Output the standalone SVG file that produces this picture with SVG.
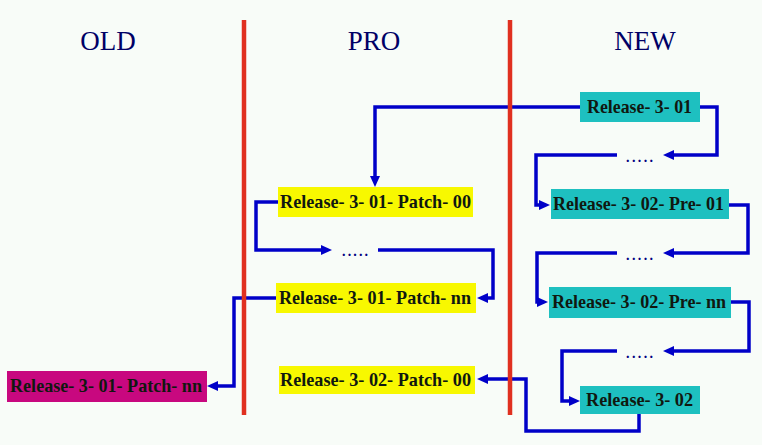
<svg xmlns="http://www.w3.org/2000/svg" width="762" height="445" viewBox="0 0 762 445">
<style>
.title{font-family:"Liberation Serif","Times New Roman",serif;font-size:27px;fill:#000066}
.lbl{font-family:"Liberation Serif","Times New Roman",serif;font-size:19px;font-weight:bold;fill:#101810}
.dots{font-family:"Liberation Serif","Times New Roman",serif;font-size:14px;font-weight:bold;fill:#000080}
.conn{fill:none;stroke:#0000C8;stroke-width:3.5;marker-end:url(#arr)}
.new{fill:#1EC0C0}
.pro{fill:#F8F800}
.old{fill:#C8087F}
.sep{stroke:#E03020;stroke-width:4.5}
</style>
<defs>
<marker id="arr" markerUnits="userSpaceOnUse" markerWidth="12" markerHeight="10" refX="4" refY="5" orient="auto">
<path d="M0,0 L11,5 L0,10 z" fill="#0000C8"/>
</marker>
</defs>
<rect width="762" height="445" fill="#F8FCF8"/>
<g id="titles">
<text class="title" x="108" y="50" text-anchor="middle">OLD</text>
<text class="title" x="374" y="50" text-anchor="middle">PRO</text>
<text class="title" x="645" y="50" text-anchor="middle">NEW</text>
</g>
<g id="connectors">
<path class="conn" d="M580,107 H375 V180"/>
<path class="conn" d="M700,107 H717 V155 H670"/>
<path class="conn" d="M617,155 H536 V205 H543"/>
<path class="conn" d="M729,205 H748 V253 H670"/>
<path class="conn" d="M617,253 H537 V302 H541"/>
<path class="conn" d="M731,302 H749 V351 H670"/>
<path class="conn" d="M617,351 H562 V401 H573"/>
<path class="conn" d="M639,414 V431 H526 V379 H484"/>
<path class="conn" d="M278,202 H256 V250 H325"/>
<path class="conn" d="M378,250 H493 V298 H484"/>
<path class="conn" d="M276,298 H234 V386 H214"/>
</g>
<g id="separators">
<line class="sep" x1="244" y1="20" x2="244" y2="415"/>
<line class="sep" x1="510" y1="20" x2="510" y2="415"/>
</g>
<g id="new-3-01">
<rect class="new" x="580" y="92" width="120" height="30"/>
<text class="lbl" x="587" y="113" textLength="105" lengthAdjust="spacingAndGlyphs">Release- 3- 01</text>
</g>
<g id="new-dots-1"><text class="dots" x="626" y="162" textLength="27" lengthAdjust="spacing">.....</text></g>
<g id="new-pre-01">
<rect class="new" x="551" y="189" width="178" height="30"/>
<text class="lbl" x="553" y="210" textLength="171" lengthAdjust="spacingAndGlyphs">Release- 3- 02- Pre- 01</text>
</g>
<g id="new-dots-2"><text class="dots" x="626" y="260" textLength="27" lengthAdjust="spacing">.....</text></g>
<g id="new-pre-nn">
<rect class="new" x="549" y="287" width="182" height="31"/>
<text class="lbl" x="552" y="308" textLength="174" lengthAdjust="spacingAndGlyphs">Release- 3- 02- Pre- nn</text>
</g>
<g id="new-dots-3"><text class="dots" x="626" y="358" textLength="27" lengthAdjust="spacing">.....</text></g>
<g id="new-3-02">
<rect class="new" x="580" y="386" width="120" height="28"/>
<text class="lbl" x="586" y="406" textLength="107" lengthAdjust="spacingAndGlyphs">Release- 3- 02</text>
</g>
<g id="pro-patch-00">
<rect class="pro" x="278" y="187" width="195" height="30"/>
<text class="lbl" x="280" y="208" textLength="191" lengthAdjust="spacingAndGlyphs">Release- 3- 01- Patch- 00</text>
</g>
<g id="pro-dots"><text class="dots" x="342" y="256" textLength="26" lengthAdjust="spacing">.....</text></g>
<g id="pro-patch-nn">
<rect class="pro" x="276" y="283" width="200" height="30"/>
<text class="lbl" x="279" y="304" textLength="192" lengthAdjust="spacingAndGlyphs">Release- 3- 01- Patch- nn</text>
</g>
<g id="pro-3-02-patch-00">
<rect class="pro" x="279" y="366" width="196" height="28"/>
<text class="lbl" x="280" y="386" textLength="191" lengthAdjust="spacingAndGlyphs">Release- 3- 02- Patch- 00</text>
</g>
<g id="old-patch-nn">
<rect class="old" x="7" y="371" width="200" height="31"/>
<text class="lbl" x="10" y="392" textLength="192" lengthAdjust="spacingAndGlyphs">Release- 3- 01- Patch- nn</text>
</g>
</svg>
